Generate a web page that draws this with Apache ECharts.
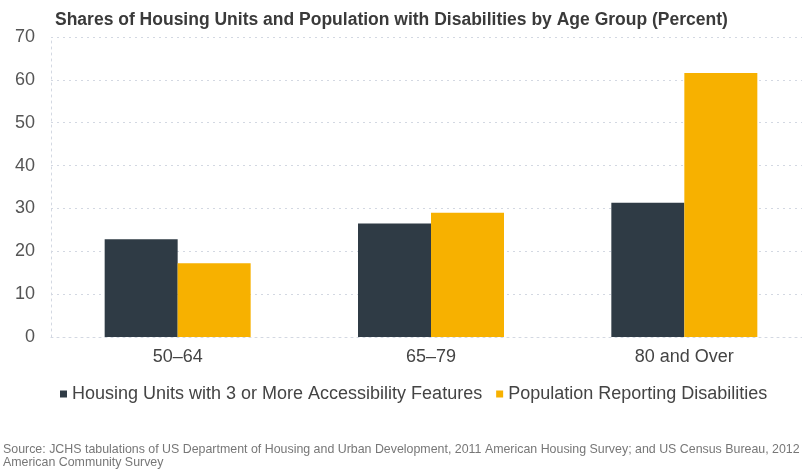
<!DOCTYPE html>
<html>
<head>
<meta charset="utf-8">
<script src="https://cdn.jsdelivr.net/npm/echarts@6/dist/echarts.min.js"></script>
<style>
  html, body { margin: 0; padding: 0; background: #fff; }
  #chart { width: 802px; height: 470px; }
</style>
</head>
<body>
<div id="chart"></div>
<script>
const ageGroups = ['50–64', '65–79', '80 and Over'];
const housingUnits = [22.8, 26.5, 31.3];
const populationDisabled = [17.2, 29.0, 61.6];
const yTicks = { min: 0, max: 70, interval: 10 };

const seriesNames = [
  'Housing Units with 3 or More Accessibility Features',
  'Population Reporting Disabilities',
];

const chart = echarts.init(document.getElementById('chart'));

const gridLine = { color: '#d3d8e2', type: [2, 4], width: 1 };

const option = {
  backgroundColor: '#fff',
  animation: false,
  textStyle: { fontFamily: 'Liberation Sans, Arial, sans-serif' },
  title: {
    text: 'Shares of Housing Units and Population with Disabilities by Age Group (Percent)',
    left: 50,
    top: 6,
    textStyle: { fontSize: 17.5, fontWeight: 'bold', color: '#3a3a3a' },
  },
  legend: {
    left: 55,
    top: 380,
    itemWidth: 7,
    itemHeight: 7,
    itemGap: 14,
    icon: 'rect',
    textStyle: { fontSize: 18, color: '#444' },
    data: seriesNames,
  },
  grid: {
    left: 51,
    top: 37,
    width: 760,
    height: 300,
    outerBoundsMode: 'none',
  },
  xAxis: {
    type: 'category',
    data: ageGroups,
    axisLine: { show: true, lineStyle: gridLine },
    axisTick: { show: false },
    axisLabel: { fontSize: 18, color: '#444', margin: 11 },
  },
  yAxis: {
    type: 'value',
    min: yTicks.min,
    max: yTicks.max,
    interval: yTicks.interval,
    axisLine: { show: true, lineStyle: gridLine },
    axisTick: { show: false },
    axisLabel: { fontSize: 18, color: '#555', margin: 16 },
    splitLine: { show: true, lineStyle: gridLine },
  },
  series: [
    {
      name: seriesNames[0],
      type: 'bar',
      data: housingUnits,
      barWidth: 73,
      barGap: '0%',
      itemStyle: { color: '#2f3b45' },
    },
    {
      name: seriesNames[1],
      type: 'bar',
      data: populationDisabled,
      barWidth: 73,
      barGap: '0%',
      itemStyle: { color: '#f7b100' },
    },
  ],
  graphic: [
    {
      type: 'text',
      left: 3,
      top: 443,
      style: {
        text: 'Source: JCHS tabulations of US Department of Housing and Urban Development, 2011 American Housing Survey; and US Census Bureau, 2012\nAmerican Community Survey',
        font: '12.4px Liberation Sans, Arial, sans-serif',
        fill: '#777',
        lineHeight: 13,
      },
    },
  ],
};

chart.setOption(option);
</script>
</body>
</html>
